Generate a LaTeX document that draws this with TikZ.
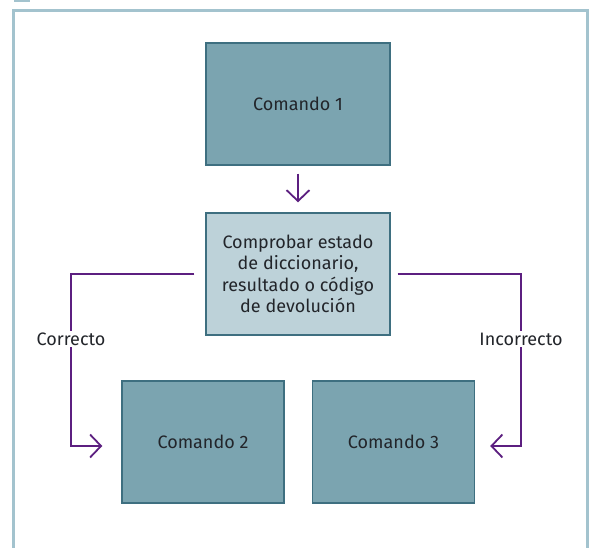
\documentclass[tikz,border=0pt]{standalone}
\usepackage{fontspec}
\setmainfont{Fira Sans}
\usetikzlibrary{arrows.meta}
\definecolor{boxfill}{HTML}{7BA4B0}
\definecolor{boxline}{HTML}{3E6F80}
\definecolor{midfill}{HTML}{BDD2D9}
\definecolor{conn}{HTML}{5C1F80}
\definecolor{frame}{HTML}{A3C3CE}
\definecolor{txt}{HTML}{22252A}
\tikzset{
  cmdbox/.style={draw=boxline, line width=1.4pt, fill=boxfill, minimum height=122pt, text=txt, font=\fontsize{18}{21.5}\selectfont, align=center, inner sep=0pt},
  checkbox/.style={cmdbox, fill=midfill},
  link/.style={draw=conn, line width=1.8pt, -{Straight Barb[length=11pt,width=23pt,line width=1.8pt]}},
  lbl/.style={fill=white, text=txt, font=\fontsize{18}{21.5}\selectfont, inner sep=2pt}
}
\begin{document}
\begin{tikzpicture}[x=1pt,y=-1pt]
\useasboundingbox (0,0) rectangle (590,548);
\fill[white] (0,0) rectangle (590,548);
\begin{scope}
\clip (0,0) rectangle (590,548);
\draw[frame, line width=3pt] (13.5,575) -- (13.5,10.5) -- (587,10.5) -- (587,575);
\fill[frame] (14,-3) rectangle (30,2);
\end{scope}
\node[cmdbox, minimum width=184pt] (c1) at (298,104) {Comando 1};
\node[checkbox, minimum width=184pt] (mid) at (298,274) {Comprobar estado\\de diccionario,\\resultado o código\\de devolución};
\node[cmdbox, minimum width=162pt] (c2) at (203,442) {Comando 2};
\node[cmdbox, minimum width=162pt] (c3) at (393.5,442) {Comando 3};
\coordinate (lc) at (71,446);
\coordinate (rc) at (521,446);
\draw[link, shorten <=8pt, shorten >=10pt] (c1) -- (mid);
\draw[link, shorten <=11pt, shorten >=19pt] (mid.west) -| (lc) -- (c2.west |- lc);
\draw[link, shorten <=7pt, shorten >=15pt] (mid.east) -| (rc) -- (c3.east |- rc);
\node[lbl] (ok) at (71,339) {Correcto};
\node[lbl] (ko) at (521,339) {Incorrecto};
\end{tikzpicture}
\end{document}
